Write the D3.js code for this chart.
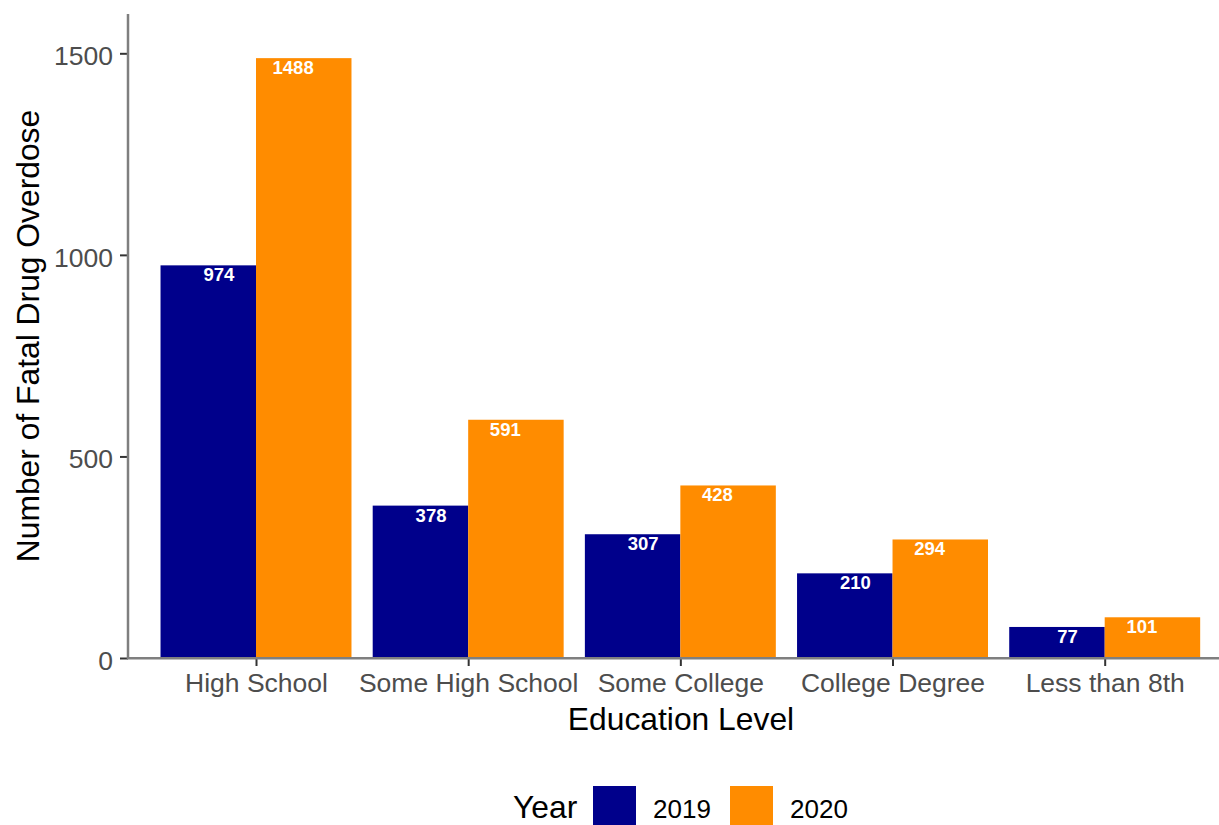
<!DOCTYPE html>
<html><head><meta charset="utf-8">
<script src="https://cdn.jsdelivr.net/npm/d3@7"></script>
<style>body{margin:0;background:#fff}svg{display:block;font-family:"Liberation Sans",Arial,sans-serif}</style>
</head><body>
<svg id="c" width="1219" height="825"></svg>
<script>
const categories = ["High School","Some High School","Some College","College Degree","Less than 8th"];
const years = ["2019","2020"];
const values2019 = [974, 378, 307, 210, 77];
const values2020 = [1488, 591, 428, 294, 101];
const yTicks = [0, 500, 1000, 1500];
const colors = ["#00008B", "#FF8C00"];

const svg = d3.select("#c");
const x = d3.scalePoint().domain(categories).range([128.7, 1232]).padding(0.6);
const step = x.step();
const y = d3.scaleLinear().domain([0, 1597.5]).range([658, 14]);
const barW = 0.45 * step;
const series = [values2019, values2020];

const data = [];
categories.forEach((c, i) => series.forEach((s, j) => data.push({c, j, v: s[i]})));

// bars
svg.append("g").selectAll("rect").data(data).join("rect")
  .attr("x", d => x(d.c) + (d.j === 0 ? -barW : 0))
  .attr("width", barW)
  .attr("y", d => y(d.v))
  .attr("height", d => y(0) - y(d.v))
  .attr("fill", d => colors[d.j]);

// labels
svg.append("g").selectAll("text").data(data).join("text")
  .attr("x", d => x(d.c) + (d.j === 0 ? -1 : 1) * 0.175 * step)
  .attr("y", d => y(d.v) + 16)
  .attr("text-anchor", "middle")
  .attr("fill", "#fff")
  .attr("font-weight", "bold")
  .attr("font-size", 18.5)
  .text(d => d.v);

// y axis
const yAxis = svg.append("g").attr("transform", "translate(128,0)")
  .call(d3.axisLeft(y).tickValues(yTicks).tickFormat(d3.format("d")).tickSize(8).tickPadding(7));
yAxis.select(".domain").remove();
yAxis.selectAll(".tick line").attr("stroke", "#333").attr("stroke-width", 2);
yAxis.selectAll(".tick text").attr("fill", "#4d4d4d").attr("font-size", 26.5)
  .attr("font-family", "Liberation Sans, Arial, sans-serif").attr("dy", "11.5px");

// x axis
const xAxis = svg.append("g").attr("transform", "translate(0,658)")
  .call(d3.axisBottom(x).tickSize(8).tickPadding(9));
xAxis.select(".domain").remove();
xAxis.selectAll(".tick line").attr("stroke", "#333").attr("stroke-width", 2);
xAxis.selectAll(".tick text").attr("fill", "#4d4d4d").attr("font-size", 26.5)
  .attr("font-family", "Liberation Sans, Arial, sans-serif").attr("y", 34).attr("dy", "0");

// axis lines
svg.append("line").attr("x1", 128).attr("x2", 128).attr("y1", 14).attr("y2", 659)
  .attr("stroke", "#7f7f7f").attr("stroke-width", 2.5);
svg.append("line").attr("x1", 127).attr("x2", 1219).attr("y1", 658.3).attr("y2", 658.3)
  .attr("stroke", "#7f7f7f").attr("stroke-width", 2.5);

// titles
svg.append("text").attr("x", 681).attr("y", 729.5).attr("text-anchor", "middle")
  .attr("font-size", 31.8).attr("fill", "#000").text("Education Level");
svg.append("text").attr("transform", "translate(39,336) rotate(-90)").attr("text-anchor", "middle")
  .attr("font-size", 31.8).attr("fill", "#000").text("Number of Fatal Drug Overdose");

// legend
const lg = svg.append("g");
lg.append("text").attr("x", 513).attr("y", 818).attr("font-size", 31.8).text("Year");
const keyX = [593, 730];
years.forEach((yr, j) => {
  lg.append("rect").attr("x", keyX[j]).attr("y", 786).attr("width", 43).attr("height", 43).attr("fill", colors[j]);
  lg.append("text").attr("x", keyX[j] + 60).attr("y", 818).attr("font-size", 26).text(yr);
});
</script>
</body></html>
